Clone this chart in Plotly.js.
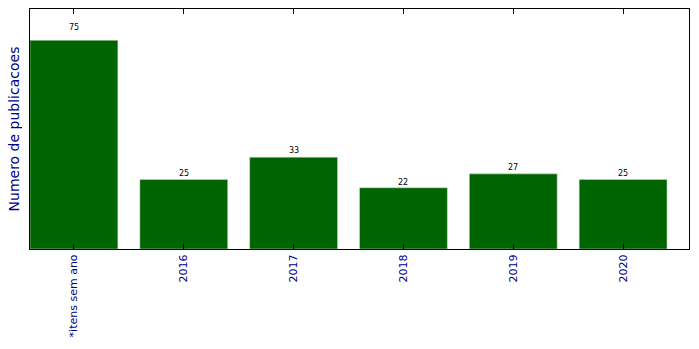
<!DOCTYPE html>
<html><head><meta charset="utf-8">
<script src="https://cdn.plot.ly/plotly-3.0.1.min.js"></script>
<style>html,body{margin:0;padding:0;background:#fff}</style>
</head><body>
<div id="chart" style="width:699px;height:349px"></div>
<script>
const categories = ["*itens sem ano", "2016", "2017", "2018", "2019", "2020"];
const values = [75, 25, 33, 22, 27, 25];
const positions = [0, 1, 2, 3, 4, 5];

const trace = {
  type: 'bar', x: positions, y: values, width: 0.8,
  marker: {color: '#006400', line: {color: '#cfe8cf', width: 0.5}},
  hoverinfo: 'none'
};
const annotations = positions.map((p, i) => ({
  x: p, y: values[i] * 1.05, text: String(values[i]), showarrow: false,
  xref: 'x', yref: 'y', yanchor: 'bottom', yshift: -4,
  font: {family: 'DejaVu Sans', size: 8, color: '#000'}
}));
const layout = {
  width: 699, height: 349,
  margin: {l: 30, r: 10, t: 9, b: 100},
  paper_bgcolor: '#fff', plot_bgcolor: '#fff',
  showlegend: false,
  font: {family: 'DejaVu Sans'},
  xaxis: {
    range: [-0.4, 5.6], tickvals: positions, ticktext: categories,
    tickangle: -90, ticks: 'inside', ticklen: 5, tickcolor: '#000', tickwidth: 1,
    showline: true, linecolor: '#000', linewidth: 1, mirror: 'ticks',
    showgrid: false, zeroline: false,
    tickfont: {family: 'DejaVu Sans', size: 11, color: '#00008b'}
  },
  yaxis: {
    range: [0, 86.25], showticklabels: false, ticks: '',
    showline: true, linecolor: '#000', linewidth: 1, mirror: true,
    showgrid: false, zeroline: false,
    title: {text: 'Numero de publicacoes', standoff: 6,
      font: {family: 'DejaVu Sans', size: 14, color: '#00008b'}}
  },
  annotations: annotations
};
Plotly.newPlot('chart', [trace], layout, {displayModeBar: false, staticPlot: true});
</script>
</body></html>
